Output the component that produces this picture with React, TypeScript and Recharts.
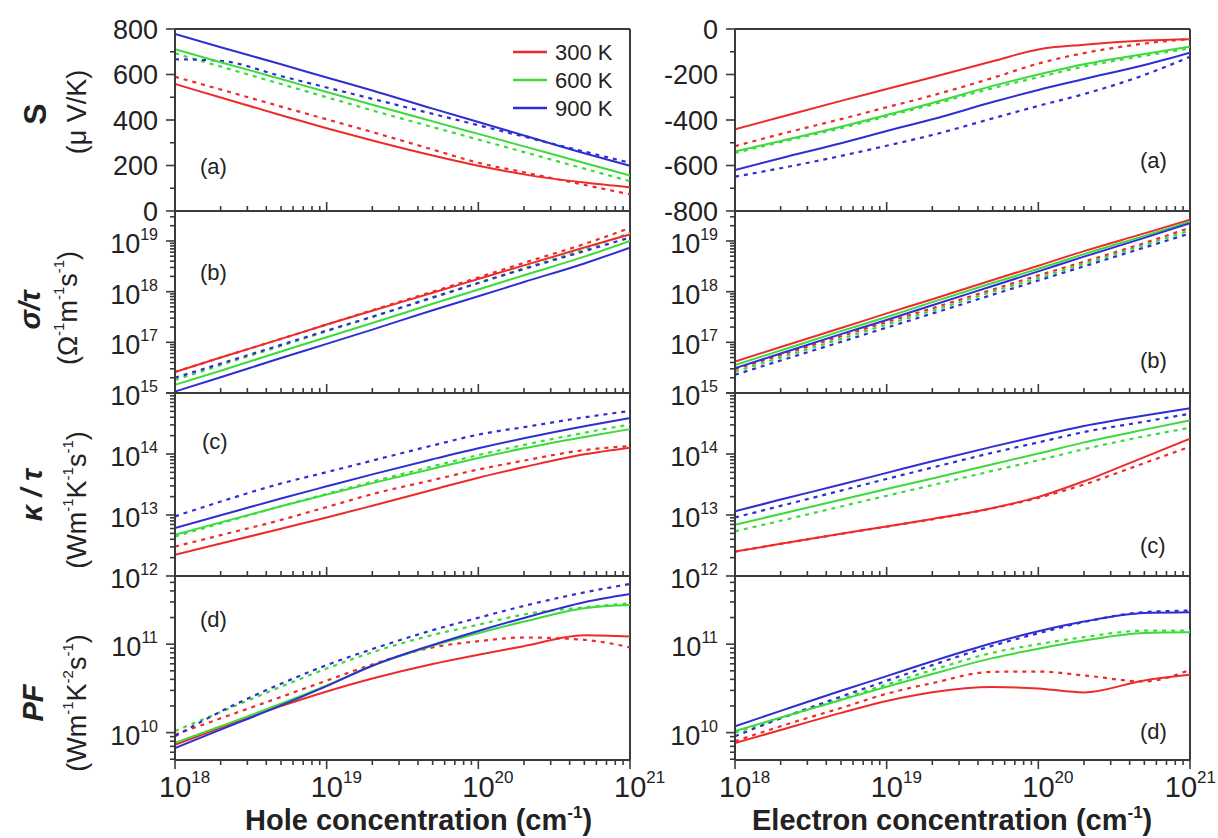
import React from 'react';
import { LineChart, Line, XAxis, YAxis, ReferenceLine } from 'recharts';

const FONT = '"Liberation Sans", Arial, Helvetica, sans-serif';
const AXIS = '#3a3a3a';
const TEXT = '#222';
const RED = '#ee2b2b';
const GREEN = '#3bdb3b';
const BLUE = '#2e2ed4';

const temperatures = ['300 K', '600 K', '900 K'];
const tempColors = [RED, GREEN, BLUE];

// carrier concentration (cm^-1), shared by every panel
const concentration = [1e18, 2e18, 5e18, 1e19, 2e19, 5e19, 1e20, 2e20, 5e20, 1e21];
const xDomain: [number, number] = [1e18, 1e21];
const xMajorTicks = [1e18, 1e19, 1e20, 1e21];
const xMajorLabels = ['18', '19', '20', '21'];
const xMinorTicks = [
  2e18, 3e18, 4e18, 5e18, 6e18, 7e18, 8e18, 9e18,
  2e19, 3e19, 4e19, 5e19, 6e19, 7e19, 8e19, 9e19,
  2e20, 3e20, 4e20, 5e20, 6e20, 7e20, 8e20, 9e20,
];

// (a) Seebeck coefficient, µV/K
const holeS300 = [558, 499, 421, 364, 310, 244, 199, 161, 125, 104];
const holeS600 = [711, 654, 580, 523, 467, 394, 339, 284, 211, 156];
const holeS900 = [778, 720, 645, 587, 530, 450, 391, 332, 254, 199];
const holeS300d = [590, 534, 459, 403, 347, 270, 212, 170, 115, 73];
const holeS600d = [693, 635, 558, 500, 442, 369, 314, 259, 186, 131];
const holeS900d = [667, 660, 593, 543, 493, 427, 377, 327, 261, 212];
const elecS300 = [-441, -387, -316, -264, -212, -142, -90, -69, -51, -45];
const elecS600 = [-539, -492, -430, -378, -325, -250, -200, -155, -110, -78];
const elecS900 = [-620, -568, -502, -448, -397, -321, -268, -220, -158, -104];
const elecS300d = [-515, -462, -396, -344, -292, -215, -152, -106, -64, -44];
const elecS600d = [-545, -497, -436, -384, -332, -260, -212, -165, -118, -85];
const elecS900d = [-649, -612, -558, -513, -466, -393, -338, -286, -202, -122];

// (b) sigma / tau
const holeSig300 = [2.6e16, 5.0e16, 1.17e17, 2.24e17, 4.2e17, 9.5e17, 1.78e18, 3.3e18, 7.4e18, 1.35e19];
const holeSig600 = [1.45e16, 2.75e16, 6.6e16, 1.26e17, 2.4e17, 5.75e17, 1.1e18, 2.1e18, 4.9e18, 1.0e19];
const holeSig900 = [1.07e16, 2.05e16, 4.9e16, 9.3e16, 1.78e17, 4.3e17, 8.1e17, 1.55e18, 3.6e18, 7.4e18];
const holeSig300d = [2.6e16, 5.0e16, 1.17e17, 2.24e17, 4.3e17, 1.0e18, 1.9e18, 3.7e18, 8.7e18, 1.8e19];
const holeSig600d = [1.8e16, 3.55e16, 8.5e16, 1.66e17, 3.16e17, 7.8e17, 1.48e18, 2.9e18, 6.8e18, 1.45e19];
const holeSig900d = [2.0e16, 3.8e16, 8.9e16, 1.7e17, 3.2e17, 7.6e17, 1.48e18, 2.8e18, 6.3e18, 1.17e19];
const elecSig300 = [4.17e16, 8.1e16, 1.91e17, 3.72e17, 7.1e17, 1.7e18, 3.24e18, 6.3e18, 1.41e19, 2.63e19];
const elecSig600 = [3.55e16, 6.9e16, 1.66e17, 3.16e17, 6.2e17, 1.48e18, 2.82e18, 5.5e18, 1.26e19, 2.4e19];
const elecSig900 = [3.09e16, 6.0e16, 1.45e17, 2.75e17, 5.4e17, 1.29e18, 2.51e18, 4.9e18, 1.15e19, 2.24e19];
const elecSig300d = [2.95e16, 5.6e16, 1.32e17, 2.51e17, 4.7e17, 1.1e18, 2.09e18, 3.9e18, 9.1e18, 1.82e19];
const elecSig600d = [2.63e16, 5.0e16, 1.17e17, 2.24e17, 4.2e17, 1.0e18, 1.86e18, 3.55e18, 8.3e18, 1.62e19];
const elecSig900d = [2.29e16, 4.37e16, 1.02e17, 1.95e17, 3.7e17, 8.7e17, 1.66e18, 3.16e18, 7.4e18, 1.41e19];

// (c) kappa / tau
const holeK300 = [2.22e12, 3.4e12, 5.96e12, 9.1e12, 1.42e13, 2.59e13, 4.09e13, 6.1e13, 9.9e13, 1.27e14];
const holeK600 = [4.73e12, 7.57e12, 1.39e13, 2.16e13, 3.33e13, 5.75e13, 8.6e13, 1.24e14, 1.9e14, 2.56e14];
const holeK900 = [6.1e12, 9.9e12, 1.87e13, 2.95e13, 4.63e13, 8.2e13, 1.24e14, 1.81e14, 2.85e14, 3.87e14];
const holeK300d = [3.04e12, 4.67e12, 8.3e12, 1.35e13, 2.2e13, 3.74e13, 5.56e13, 7.8e13, 1.16e14, 1.35e14];
const holeK600d = [4.45e12, 7.3e12, 1.39e13, 2.22e13, 3.51e13, 6.28e13, 9.6e13, 1.41e14, 2.23e14, 3.05e14];
const holeK900d = [9.5e12, 1.66e13, 3.28e13, 5.04e13, 7.8e13, 1.38e14, 2.08e14, 2.76e14, 3.99e14, 5.09e14];
const elecK300 = [2.51e12, 3.37e12, 4.92e12, 6.5e12, 8.6e12, 1.3e13, 1.98e13, 3.58e13, 8.9e13, 1.78e14];
const elecK600 = [6.9e12, 1.04e13, 1.78e13, 2.66e13, 3.98e13, 6.8e13, 1.02e14, 1.55e14, 2.51e14, 3.55e14];
const elecK900 = [1.15e13, 1.79e13, 3.16e13, 4.9e13, 7.6e13, 1.32e14, 1.97e14, 2.88e14, 4.27e14, 5.6e14];
const elecK300d = [2.51e12, 3.37e12, 4.9e12, 6.46e12, 8.5e12, 1.29e13, 1.91e13, 3.16e13, 7.1e13, 1.32e14];
const elecK600d = [5.4e12, 8.05e12, 1.38e13, 2.07e13, 3.09e13, 5.3e13, 7.9e13, 1.2e14, 1.95e14, 2.69e14];
const elecK900d = [9.1e12, 1.41e13, 2.51e13, 3.9e13, 6.0e13, 1.05e14, 1.55e14, 2.29e14, 3.39e14, 4.57e14];

// (d) power factor
const holePF300 = [7.3e9, 1.13e10, 1.99e10, 2.92e10, 4.09e10, 5.98e10, 7.6e10, 9.5e10, 1.26e11, 1.22e11];
const holePF600 = [7.66e9, 1.18e10, 2.12e10, 3.42e10, 5.7e10, 9.6e10, 1.33e11, 1.8e11, 2.55e11, 2.77e11];
const holePF900 = [6.7e9, 1.08e10, 2.03e10, 3.36e10, 5.7e10, 9.8e10, 1.41e11, 1.98e11, 2.98e11, 3.69e11];
const holePF300d = [9.5e9, 1.45e10, 2.53e10, 3.87e10, 5.9e10, 9.2e10, 1.08e11, 1.19e11, 1.12e11, 9.2e10];
const holePF600d = [1.04e10, 1.71e10, 3.3e10, 5.3e10, 8.1e10, 1.27e11, 1.66e11, 2.17e11, 2.61e11, 2.9e11];
const holePF900d = [9.1e9, 1.73e10, 3.57e10, 5.8e10, 8.8e10, 1.44e11, 1.99e11, 2.71e11, 3.85e11, 4.79e11];
const elecPF300 = [7.6e9, 1.07e10, 1.67e10, 2.28e10, 2.86e10, 3.27e10, 3.16e10, 2.85e10, 3.89e10, 4.5e10];
const elecPF600 = [1.04e10, 1.48e10, 2.34e10, 3.3e10, 4.6e10, 6.95e10, 8.9e10, 1.1e11, 1.34e11, 1.36e11];
const elecPF900 = [1.18e10, 1.76e10, 2.97e10, 4.35e10, 6.4e10, 1.03e11, 1.4e11, 1.8e11, 2.25e11, 2.3e11];
const elecPF300d = [7.98e9, 1.18e10, 1.9e10, 2.75e10, 3.63e10, 4.87e10, 4.9e10, 4.43e10, 3.79e10, 5.13e10];
const elecPF600d = [1.0e10, 1.45e10, 2.4e10, 3.5e10, 5.1e10, 8.0e10, 1.0e11, 1.2e11, 1.42e11, 1.42e11];
const elecPF900d = [9.1e9, 1.45e10, 2.55e10, 3.85e10, 5.8e10, 9.6e10, 1.33e11, 1.78e11, 2.3e11, 2.4e11];

// y-axis definitions
const sHoleDomain: [number, number] = [0, 800];
const sHoleMajor = [0, 200, 400, 600, 800];
const sHoleMinor = [100, 300, 500, 700];
const sHoleLabels = ['0', '200', '400', '600', '800'];
const sElecDomain: [number, number] = [-800, 0];
const sElecMajor = [-800, -600, -400, -200, 0];
const sElecMinor = [-700, -500, -300, -100];
const sElecLabels = ['-800', '-600', '-400', '-200', '0'];

const sigmaDomain: [number, number] = [1e16, 3.9e19];
const sigmaMajor = [1e16, 1e17, 1e18, 1e19];
const sigmaMinor = [
  2e16, 3e16, 4e16, 5e16, 6e16, 7e16, 8e16, 9e16,
  2e17, 3e17, 4e17, 5e17, 6e17, 7e17, 8e17, 9e17,
  2e18, 3e18, 4e18, 5e18, 6e18, 7e18, 8e18, 9e18,
  2e19, 3e19,
];
const sigmaLabelTicks = [1e17, 1e18, 1e19];
const sigmaLabels = ['17', '18', '19'];

const kappaDomain: [number, number] = [1e12, 1e15];
const kappaMajor = [1e12, 1e13, 1e14, 1e15];
const kappaMinor = [
  2e12, 3e12, 4e12, 5e12, 6e12, 7e12, 8e12, 9e12,
  2e13, 3e13, 4e13, 5e13, 6e13, 7e13, 8e13, 9e13,
  2e14, 3e14, 4e14, 5e14, 6e14, 7e14, 8e14, 9e14,
];
const kappaLabels = ['12', '13', '14', '15'];

const pfDomain: [number, number] = [4.9e9, 5.9e11];
const pfMajor = [1e10, 1e11];
const pfMinor = [
  5e9, 6e9, 7e9, 8e9, 9e9,
  2e10, 3e10, 4e10, 5e10, 6e10, 7e10, 8e10, 9e10,
  2e11, 3e11, 4e11, 5e11,
];
const pfLabels = ['10', '11'];

type Series = { key: string; values: number[]; color: string; dashed: boolean };
type Panel = {
  col: number;
  row: number;
  scale: 'linear' | 'log';
  domain: [number, number];
  major: number[];
  minor: number[];
  labelTicks: number[];
  labelTexts: string[];
  series: Series[];
};

const makeSeries = (solid: number[][], dashed: number[][]): Series[] => {
  const out: Series[] = [];
  dashed.forEach((v, i) => out.push({ key: `d${i}`, values: v, color: tempColors[i], dashed: true }));
  solid.forEach((v, i) => out.push({ key: `s${i}`, values: v, color: tempColors[i], dashed: false }));
  return out;
};

const panels: Panel[] = [
  { col: 0, row: 0, scale: 'linear', domain: sHoleDomain, major: sHoleMajor, minor: sHoleMinor, labelTicks: sHoleMajor, labelTexts: sHoleLabels,
    series: makeSeries([holeS300, holeS600, holeS900], [holeS300d, holeS600d, holeS900d]) },
  { col: 1, row: 0, scale: 'linear', domain: sElecDomain, major: sElecMajor, minor: sElecMinor, labelTicks: sElecMajor, labelTexts: sElecLabels,
    series: makeSeries([elecS300, elecS600, elecS900], [elecS300d, elecS600d, elecS900d]) },
  { col: 0, row: 1, scale: 'log', domain: sigmaDomain, major: sigmaMajor, minor: sigmaMinor, labelTicks: sigmaLabelTicks, labelTexts: sigmaLabels,
    series: makeSeries([holeSig300, holeSig600, holeSig900], [holeSig300d, holeSig600d, holeSig900d]) },
  { col: 1, row: 1, scale: 'log', domain: sigmaDomain, major: sigmaMajor, minor: sigmaMinor, labelTicks: sigmaLabelTicks, labelTexts: sigmaLabels,
    series: makeSeries([elecSig300, elecSig600, elecSig900], [elecSig300d, elecSig600d, elecSig900d]) },
  { col: 0, row: 2, scale: 'log', domain: kappaDomain, major: kappaMajor, minor: kappaMinor, labelTicks: kappaMajor, labelTexts: kappaLabels,
    series: makeSeries([holeK300, holeK600, holeK900], [holeK300d, holeK600d, holeK900d]) },
  { col: 1, row: 2, scale: 'log', domain: kappaDomain, major: kappaMajor, minor: kappaMinor, labelTicks: kappaMajor, labelTexts: kappaLabels,
    series: makeSeries([elecK300, elecK600, elecK900], [elecK300d, elecK600d, elecK900d]) },
  { col: 0, row: 3, scale: 'log', domain: pfDomain, major: pfMajor, minor: pfMinor, labelTicks: pfMajor, labelTexts: pfLabels,
    series: makeSeries([holePF300, holePF600, holePF900], [holePF300d, holePF600d, holePF900d]) },
  { col: 1, row: 3, scale: 'log', domain: pfDomain, major: pfMajor, minor: pfMinor, labelTicks: pfMajor, labelTexts: pfLabels,
    series: makeSeries([elecPF300, elecPF600, elecPF900], [elecPF300d, elecPF600d, elecPF900d]) },
];

const rowTop = [29, 211, 393, 576];
const rowBottom = [211, 393, 576, 760];
const colLeft = [0, 560];
const colWidth = [700, 658];
const colRight = [70, 28];
const TOP_PAD = 30;
const Y_AXIS_W = 175;
const X_FS = 29;
const X_SUP = 17;

function PanelChart({ p }: { p: Panel }) {
  const data = concentration.map((x, i) => {
    const o: Record<string, number> = { x };
    p.series.forEach((s) => {
      o[s.key] = s.values[i];
    });
    return o;
  });
  const isBottom = p.row === 3;
  const xh = isBottom ? 72 : 26;
  const plotH = rowBottom[p.row] - rowTop[p.row];
  const height = TOP_PAD + plotH + xh;
  const yTicks = [...p.major, ...p.minor];
  const xTicks = [...xMajorTicks, ...xMinorTicks];
  const chartW = colWidth[p.col];

  const renderYTick = (props: any) => {
    const { x, y, payload } = props;
    const v = payload.value;
    const major = p.major.indexOf(v) >= 0;
    const len = major ? 9 : 5;
    const li = p.labelTicks.indexOf(v);
    const lab = li >= 0 ? p.labelTexts[li] : null;
    return (
      <g>
        <line x1={x} x2={x - len} y1={y} y2={y} stroke={AXIS} strokeWidth={1.6} />
        {lab !== null && p.scale === 'linear' && (
          <text x={x - 17} y={y + 9.5} textAnchor="end" fontSize={27} fontFamily={FONT} fill={TEXT}>
            {lab}
          </text>
        )}
        {lab !== null && p.scale === 'log' && (
          <text x={x - 17} y={y + 12} textAnchor="end" fontSize={27} fontFamily={FONT} fill={TEXT}>
            10
            <tspan fontSize={16} dy={-13}>
              {lab}
            </tspan>
          </text>
        )}
      </g>
    );
  };

  const renderXTick = (props: any) => {
    const { x, y, payload } = props;
    const v = payload.value;
    const mi = xMajorTicks.indexOf(v);
    const major = mi >= 0;
    const len = major ? 9 : 5;
    if (!isBottom) {
      return (
        <g>
          <line x1={x} x2={x} y1={y} y2={y - len} stroke={AXIS} strokeWidth={1.6} />
        </g>
      );
    }
    const labelW = 1.112 * X_FS + 1.112 * X_SUP;
    const start = Math.min(x - 16, chartW - 2 - labelW);
    return (
      <g>
        <line x1={x} x2={x} y1={y} y2={y + len} stroke={AXIS} strokeWidth={1.6} />
        {major && (
          <text x={start} y={y + 37} textAnchor="start" fontSize={X_FS} fontFamily={FONT} fill={TEXT}>
            10
            <tspan fontSize={X_SUP} dy={-14}>
              {xMajorLabels[mi]}
            </tspan>
          </text>
        )}
      </g>
    );
  };

  return (
    <div style={{ position: 'absolute', left: colLeft[p.col], top: rowTop[p.row] - TOP_PAD }}>
      <LineChart
        width={chartW}
        height={height}
        data={data}
        margin={{ top: TOP_PAD, right: colRight[p.col], bottom: 0, left: 0 }}
      >
        <XAxis
          dataKey="x"
          type="number"
          scale="log"
          domain={xDomain}
          ticks={xTicks}
          interval={0}
          allowDataOverflow
          height={xh}
          tickSize={0}
          tickMargin={0}
          tickLine={false}
          axisLine={{ stroke: AXIS, strokeWidth: 2 }}
          tick={renderXTick}
        />
        <YAxis
          type="number"
          scale={p.scale}
          domain={p.domain}
          ticks={yTicks}
          interval={0}
          allowDataOverflow
          width={Y_AXIS_W}
          tickSize={0}
          tickMargin={0}
          tickLine={false}
          axisLine={{ stroke: AXIS, strokeWidth: 2 }}
          tick={renderYTick}
        />
        <ReferenceLine x={xDomain[1]} stroke={AXIS} strokeWidth={2} ifOverflow="visible" />
        <ReferenceLine y={p.domain[1]} stroke={AXIS} strokeWidth={2} ifOverflow="visible" />
        {p.series.map((s) => (
          <Line
            key={s.key}
            dataKey={s.key}
            type="monotone"
            stroke={s.color}
            strokeWidth={s.dashed ? 2.2 : 2}
            strokeDasharray={s.dashed ? '4 5' : undefined}
            dot={false}
            activeDot={false}
            isAnimationActive={false}
          />
        ))}
      </LineChart>
    </div>
  );
}

type Part = [string, boolean];
const renderParts = (parts: Part[], supSize: number, up: number) => {
  let shifted = false;
  return parts.map(([t, sup], i) => {
    let dy: number | undefined;
    if (sup && !shifted) {
      dy = -up;
      shifted = true;
    } else if (!sup && shifted) {
      dy = up;
      shifted = false;
    }
    return (
      <tspan key={i} dy={dy} fontSize={sup ? supSize : undefined}>
        {t}
      </tspan>
    );
  });
};

const sigmaUnit: Part[] = [['(Ω', false], ['-1', true], ['m', false], ['-1', true], ['s', false], ['-1', true], [')', false]];
const kappaUnit: Part[] = [['(Wm', false], ['-1', true], ['K', false], ['-1', true], ['s', false], ['-1', true], [')', false]];
const pfUnit: Part[] = [['(Wm', false], ['-1', true], ['K', false], ['-2', true], ['s', false], ['-1', true], [')', false]];
const holeTitle: Part[] = [['Hole concentration (cm', false], ['-1', true], [')', false]];
const elecTitle: Part[] = [['Electron concentration (cm', false], ['-1', true], [')', false]];

function Overlay() {
  const legendY = [52, 80, 108];
  const panelLabels = [
    { t: '(a)', x: 200, y: 166 },
    { t: '(b)', x: 200, y: 272 },
    { t: '(c)', x: 202, y: 441 },
    { t: '(d)', x: 200, y: 619 },
    { t: '(a)', x: 1140, y: 160 },
    { t: '(b)', x: 1140, y: 360 },
    { t: '(c)', x: 1140, y: 545 },
    { t: '(d)', x: 1140, y: 731 },
  ];
  return (
    <svg
      width={1218}
      height={838}
      style={{ position: 'absolute', left: 0, top: 0, pointerEvents: 'none' }}
      fontFamily={FONT}
      fill={TEXT}
    >
      {/* y-axis titles */}
      <text transform="translate(35,114) rotate(-90)" textAnchor="middle" dominantBaseline="central" fontSize={32} fontWeight="bold">
        S
      </text>
      <text transform="translate(77,112) rotate(-90)" textAnchor="middle" dominantBaseline="central" fontSize={27}>
        (μ V/K)
      </text>
      <text transform="translate(30,310) rotate(-90)" textAnchor="middle" dominantBaseline="central" fontSize={29} fontWeight="bold" fontStyle="italic">
        σ/τ
      </text>
      <text transform="translate(68,308) rotate(-90)" textAnchor="middle" dominantBaseline="central" fontSize={27}>
        {renderParts(sigmaUnit, 15, 10)}
      </text>
      <text transform="translate(32,495) rotate(-90)" textAnchor="middle" dominantBaseline="central" fontSize={29} fontWeight="bold" fontStyle="italic">
        κ / τ
      </text>
      <text transform="translate(77,500) rotate(-90)" textAnchor="middle" dominantBaseline="central" fontSize={27}>
        {renderParts(kappaUnit, 15, 10)}
      </text>
      <text transform="translate(33,703) rotate(-90)" textAnchor="middle" dominantBaseline="central" fontSize={29} fontWeight="bold" fontStyle="italic">
        PF
      </text>
      <text transform="translate(77,703) rotate(-90)" textAnchor="middle" dominantBaseline="central" fontSize={27}>
        {renderParts(pfUnit, 15, 10)}
      </text>

      {/* x-axis titles */}
      <text x={245} y={830} fontSize={29} fontWeight="bold">
        {renderParts(holeTitle, 17, 12)}
      </text>
      <text x={752} y={830} fontSize={29} fontWeight="bold">
        {renderParts(elecTitle, 17, 12)}
      </text>

      {/* legend */}
      {temperatures.map((t, i) => (
        <g key={t}>
          <line x1={513} x2={547} y1={legendY[i]} y2={legendY[i]} stroke={tempColors[i]} strokeWidth={2.5} />
          <text x={555} y={legendY[i] + 8} fontSize={22}>
            {t}
          </text>
        </g>
      ))}

      {/* panel letters */}
      {panelLabels.map((l, i) => (
        <text key={i} x={l.x} y={l.y + 8} fontSize={22}>
          {l.t}
        </text>
      ))}
    </svg>
  );
}

export default function App() {
  return (
    <div style={{ position: 'absolute', left: 0, top: 0, width: 1218, height: 838, background: '#fff', overflow: 'hidden' }}>
      {panels.map((p, i) => (
        <PanelChart key={i} p={p} />
      ))}
      <Overlay />
    </div>
  );
}
